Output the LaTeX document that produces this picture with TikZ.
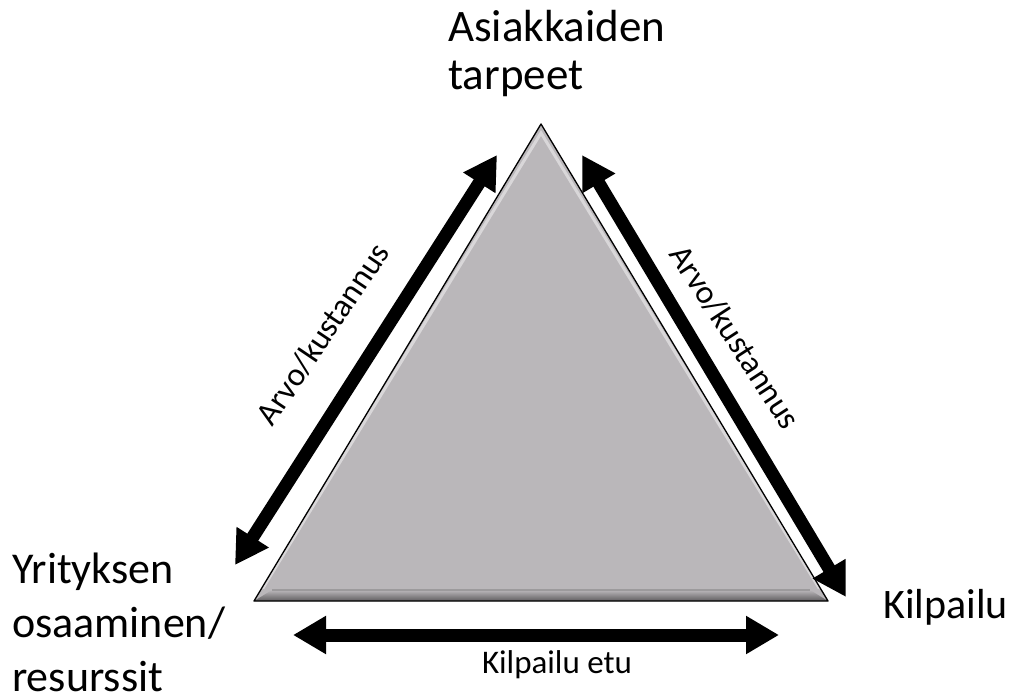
\documentclass[tikz,border=0pt]{standalone}
\usepackage{fontspec}
\setmainfont{Carlito}
\usetikzlibrary{arrows.meta}
\definecolor{trigray}{RGB}{186,183,186}
\definecolor{bevdark}{RGB}{95,93,95}
\begin{document}
\begin{tikzpicture}[x=1pt,y=-1pt,
  bigarrow/.style={line width=13pt,
    {Triangle[width=36pt,length=33pt]}-{Triangle[width=36pt,length=33pt]}},
  toplabel/.style={font=\fontsize{45}{48}\selectfont, align=left, inner sep=0pt},
  leftlabel/.style={font=\fontsize{44}{54}\selectfont, align=left, inner sep=0pt},
  rightlabel/.style={font=\fontsize{42}{48}\selectfont, inner sep=0pt},
  sidelabel/.style={font=\fontsize{33}{38}\selectfont, inner sep=0pt}]
\useasboundingbox (0,0) rectangle (1016,695);

% triangle corners
\coordinate (apex) at (541,124);
\coordinate (bl) at (254,601);
\coordinate (br) at (828,601);
% inner bevel corners
\coordinate (iapex) at (541,143);
\coordinate (ibl) at (272,590);
\coordinate (ibr) at (810,590);

% bevelled triangle
\fill[trigray] (apex) -- (br) -- (bl) -- cycle;
\shade[top color=trigray, bottom color=bevdark] (ibl) -- (ibr) -- (br) -- (bl) -- cycle;
\draw[white, opacity=0.45, line width=3pt, line cap=round]
  (263,588) -- (541,133) -- (819,588);
\draw[black!60, opacity=0.35, line width=1.5pt] (ibl) -- (ibr);
\draw[black, line width=1.3pt, line join=round] (apex) -- (br) -- (bl) -- cycle;

% arrow end points
\coordinate (la1) at (497,155);
\coordinate (la2) at (235,565);
\coordinate (ra1) at (582,155);
\coordinate (ra2) at (846,597);
\coordinate (ba1) at (293,635);
\coordinate (ba2) at (779,635);

\draw[bigarrow] (la2) -- (la1);
\draw[bigarrow] (ra1) -- (ra2);
\draw[bigarrow] (ba1) -- (ba2);

% labels (base anchor of a multi-line node = baseline of its last line)
\node[toplabel, anchor=base west] (needs) at (448,90) {Asiakkaiden\\tarpeet};
\node[leftlabel, anchor=base west] (firm) at (12,691) {Yrityksen\\osaaminen/\\resurssit};
\node[rightlabel, anchor=base west] (comp) at (883,618) {Kilpailu};
\node[sidelabel, rotate=56] (vcl) at (323,334) {Arvo/kustannus};
\node[sidelabel, rotate=-57] (vcr) at (735,337) {Arvo/kustannus};
\node[sidelabel, anchor=base] (edge) at (557,673) {Kilpailu etu};
\end{tikzpicture}
\end{document}
